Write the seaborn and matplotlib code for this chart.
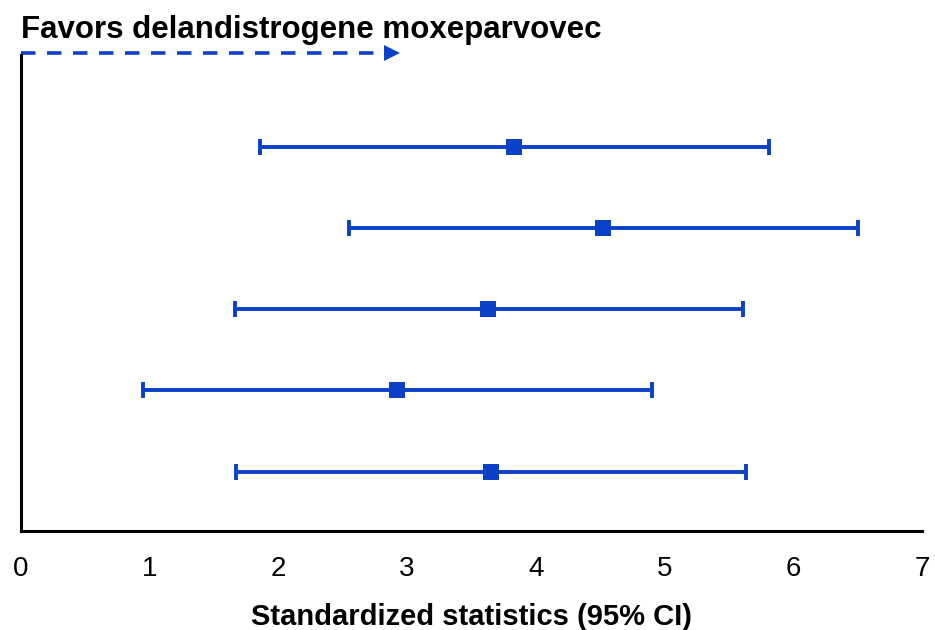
import matplotlib
matplotlib.use("Agg")
import matplotlib.pyplot as plt
import seaborn as sns
import pandas as pd

# values (top row first)
rows = [1, 2, 3, 4, 5]
estimate = [3.83, 4.52, 3.63, 2.92, 3.65]
ci_low = [1.86, 2.55, 1.66, 0.95, 1.67]
ci_high = [5.81, 6.50, 5.61, 4.90, 5.63]
xticks = [0, 1, 2, 3, 4, 5, 6, 7]

blue = "#0b40c9"

df = pd.DataFrame({"row": rows, "est": estimate, "lo": ci_low, "hi": ci_high})

sns.set_style("white")
plt.rcParams["font.family"] = ["Liberation Sans", "DejaVu Sans"]
plt.rcParams["text.color"] = "black"

fig = plt.figure(figsize=(9.35, 6.3), dpi=100)
ax = fig.add_axes([0.0225, 0.157, 0.9635, 0.756])

ax.errorbar(df["est"], df["row"],
            xerr=[df["est"] - df["lo"], df["hi"] - df["est"]],
            fmt="none", ecolor=blue, elinewidth=2.8, capsize=6, capthick=2.8)
sns.scatterplot(data=df, x="est", y="row", marker="s", s=125, color=blue,
                edgecolor=blue, linewidth=0, ax=ax, zorder=3)

ax.set_xlim(0, 7)
ax.set_ylim(5.73, -0.13)
ax.set_xticks(xticks)
ax.set_xticklabels([str(t) for t in xticks], fontsize=20, color="black")
ax.set_yticks([])
ax.set_ylabel("")
ax.set_xlabel("Standardized statistics (95% CI)", fontsize=21, fontweight="bold",
              color="black", labelpad=15)

for side in ["top", "right"]:
    ax.spines[side].set_visible(False)
for side in ["left", "bottom"]:
    ax.spines[side].set_linewidth(2.2)
    ax.spines[side].set_color("black")
ax.tick_params(axis="x", direction="out", length=7, width=2.2, colors="black", pad=11)

# direction arrow and label above the plot
arrow_y = 1.004
trans = ax.get_xaxis_transform()
ax.plot([0, 2.82], [arrow_y, arrow_y], transform=trans, color=blue, lw=2.6,
        linestyle=(0, (4, 3.2)), dash_capstyle="butt", clip_on=False)
ax.plot([2.88], [arrow_y], transform=trans, marker=">", markersize=12,
        color=blue, markeredgewidth=0, clip_on=False)
fig.text(0.0225, 0.953, "Favors delandistrogene moxeparvovec", fontsize=22.5,
         fontweight="bold", ha="left", va="center")

fig.savefig("out.png", dpi=100)
